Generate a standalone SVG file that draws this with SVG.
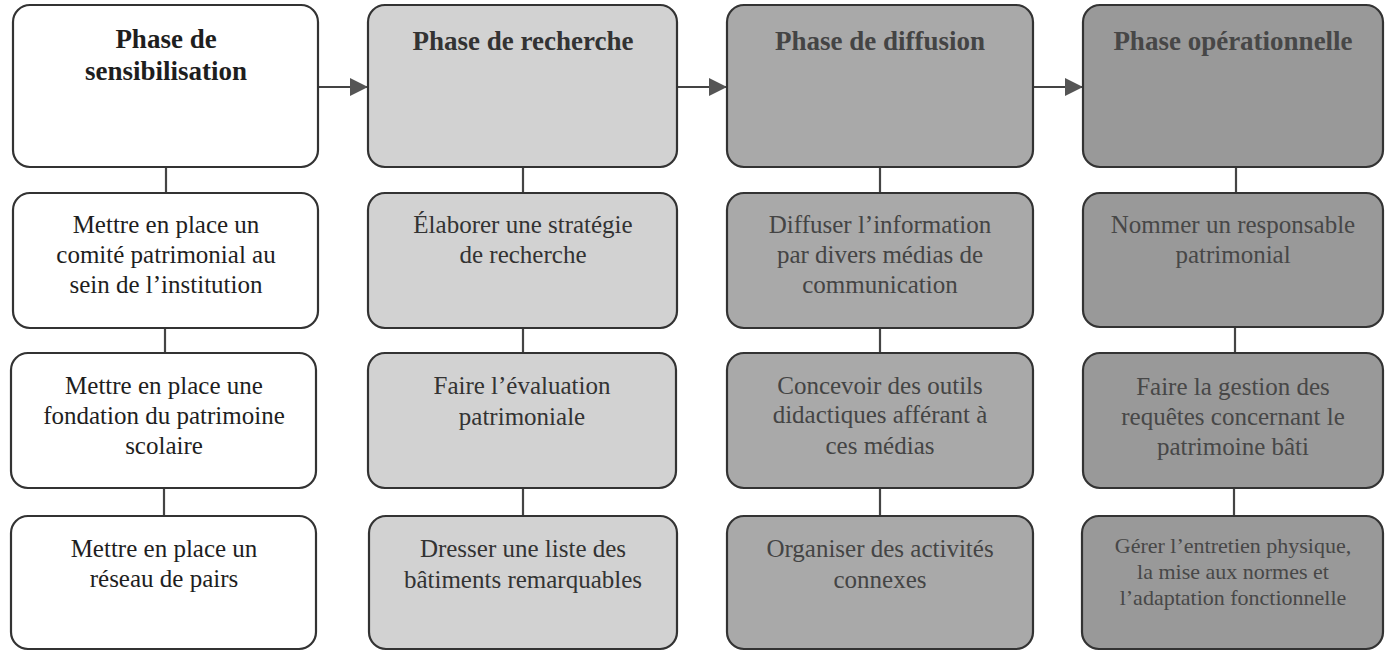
<svg xmlns="http://www.w3.org/2000/svg" width="1385" height="651" viewBox="0 0 1385 651">
<defs>
<style>
.box{stroke:#333;stroke-width:2.2}
.c1{fill:#ffffff}
.c2{fill:#d2d2d2}
.c3{fill:#a9a9a9}
.c4{fill:#999999}
text{font-family:"Liberation Serif","Times New Roman",serif;text-anchor:middle}
.t{font-size:27px;font-weight:bold}
.b{font-size:25px}
.s{font-size:22px}
.k1{fill:#1e1e1e}
.k2{fill:#333}
.k3{fill:#444}
.k4{fill:#474747}
.ln{stroke:#444;stroke-width:2.2;fill:none}
</style>
<marker id="ah" markerWidth="18" markerHeight="18" viewBox="0 0 18 18" refX="18" refY="9" orient="auto" markerUnits="userSpaceOnUse">
<path d="M0,0 L18,9 L0,18 Z" fill="#555"/>
</marker>
</defs>
<rect width="1385" height="651" fill="#fff"/>
<g id="connectors">
<line class="ln" x1="318" y1="87" x2="368" y2="87" marker-end="url(#ah)"/>
<line class="ln" x1="677" y1="87" x2="727" y2="87" marker-end="url(#ah)"/>
<line class="ln" x1="1033" y1="87" x2="1083" y2="87" marker-end="url(#ah)"/>
<line class="ln" x1="166" y1="167" x2="166" y2="193"/>
<line class="ln" x1="165" y1="328" x2="165" y2="353"/>
<line class="ln" x1="164" y1="488" x2="164" y2="516"/>
<line class="ln" x1="523" y1="167" x2="523" y2="193"/>
<line class="ln" x1="523" y1="328" x2="523" y2="353"/>
<line class="ln" x1="523" y1="488" x2="523" y2="516"/>
<line class="ln" x1="880" y1="167" x2="880" y2="193"/>
<line class="ln" x1="880" y1="328" x2="880" y2="353"/>
<line class="ln" x1="880" y1="488" x2="880" y2="516"/>
<line class="ln" x1="1236" y1="167" x2="1236" y2="193"/>
<line class="ln" x1="1235" y1="328" x2="1235" y2="353"/>
<line class="ln" x1="1234" y1="488" x2="1234" y2="516"/>
</g>
<g id="n1-0"><rect class="box c1" x="13" y="5" width="305" height="162" rx="17"/>
<text class="t k1" x="166" y="48">Phase de</text><text class="t k1" x="166" y="80">sensibilisation</text></g>
<g id="n1-1"><rect class="box c1" x="13" y="193" width="305" height="135" rx="17"/>
<text class="b k1" x="166" y="233">Mettre en place un</text><text class="b k1" x="166" y="263">comité patrimonial au</text><text class="b k1" x="166" y="293">sein de l’institution</text></g>
<g id="n1-2"><rect class="box c1" x="11" y="353" width="305" height="135" rx="17"/>
<text class="b k1" x="164" y="394">Mettre en place une</text><text class="b k1" x="164" y="424">fondation du patrimoine</text><text class="b k1" x="164" y="454">scolaire</text></g>
<g id="n1-3"><rect class="box c1" x="11" y="516" width="305" height="133" rx="17"/>
<text class="b k1" x="164" y="557">Mettre en place un</text><text class="b k1" x="164" y="587">réseau de pairs</text></g>

<g id="n2-0"><rect class="box c2" x="368" y="5" width="309" height="162" rx="17"/>
<text class="t k2" x="523" y="50">Phase de recherche</text></g>
<g id="n2-1"><rect class="box c2" x="368" y="193" width="309" height="135" rx="17"/>
<text class="b k2" x="523" y="233">Élaborer une stratégie</text><text class="b k2" x="523" y="263">de recherche</text></g>
<g id="n2-2"><rect class="box c2" x="368" y="353" width="308" height="135" rx="17"/>
<text class="b k2" x="522" y="394">Faire l’évaluation</text><text class="b k2" x="522" y="425">patrimoniale</text></g>
<g id="n2-3"><rect class="box c2" x="369" y="516" width="308" height="133" rx="17"/>
<text class="b k2" x="523" y="557">Dresser une liste des</text><text class="b k2" x="523" y="588">bâtiments remarquables</text></g>

<g id="n3-0"><rect class="box c3" x="727" y="5" width="306" height="162" rx="17"/>
<text class="t k3" x="880" y="50">Phase de diffusion</text></g>
<g id="n3-1"><rect class="box c3" x="727" y="193" width="306" height="135" rx="17"/>
<text class="b k3" x="880" y="233">Diffuser l’information</text><text class="b k3" x="880" y="263">par divers médias de</text><text class="b k3" x="880" y="293">communication</text></g>
<g id="n3-2"><rect class="box c3" x="727" y="353" width="306" height="135" rx="17"/>
<text class="b k3" x="880" y="394">Concevoir des outils</text><text class="b k3" x="880" y="423">didactiques afférant à</text><text class="b k3" x="880" y="454">ces médias</text></g>
<g id="n3-3"><rect class="box c3" x="727" y="516" width="306" height="133" rx="17"/>
<text class="b k3" x="880" y="557">Organiser des activités</text><text class="b k3" x="880" y="588">connexes</text></g>

<g id="n4-0"><rect class="box c4" x="1083" y="5" width="300" height="162" rx="17"/>
<text class="t k4" x="1233" y="50">Phase opérationnelle</text></g>
<g id="n4-1"><rect class="box c4" x="1083" y="193" width="300" height="134" rx="17"/>
<text class="b k4" x="1233" y="233">Nommer un responsable</text><text class="b k4" x="1233" y="263">patrimonial</text></g>
<g id="n4-2"><rect class="box c4" x="1083" y="353" width="300" height="135" rx="17"/>
<text class="b k4" x="1233" y="395">Faire la gestion des</text><text class="b k4" x="1233" y="425">requêtes concernant le</text><text class="b k4" x="1233" y="455">patrimoine bâti</text></g>
<g id="n4-3"><rect class="box c4" x="1082" y="516" width="301" height="133" rx="17"/>
<text class="s k4" x="1233" y="553">Gérer l’entretien physique,</text><text class="s k4" x="1233" y="579">la mise aux normes et</text><text class="s k4" x="1233" y="605">l’adaptation fonctionnelle</text></g>
</svg>
